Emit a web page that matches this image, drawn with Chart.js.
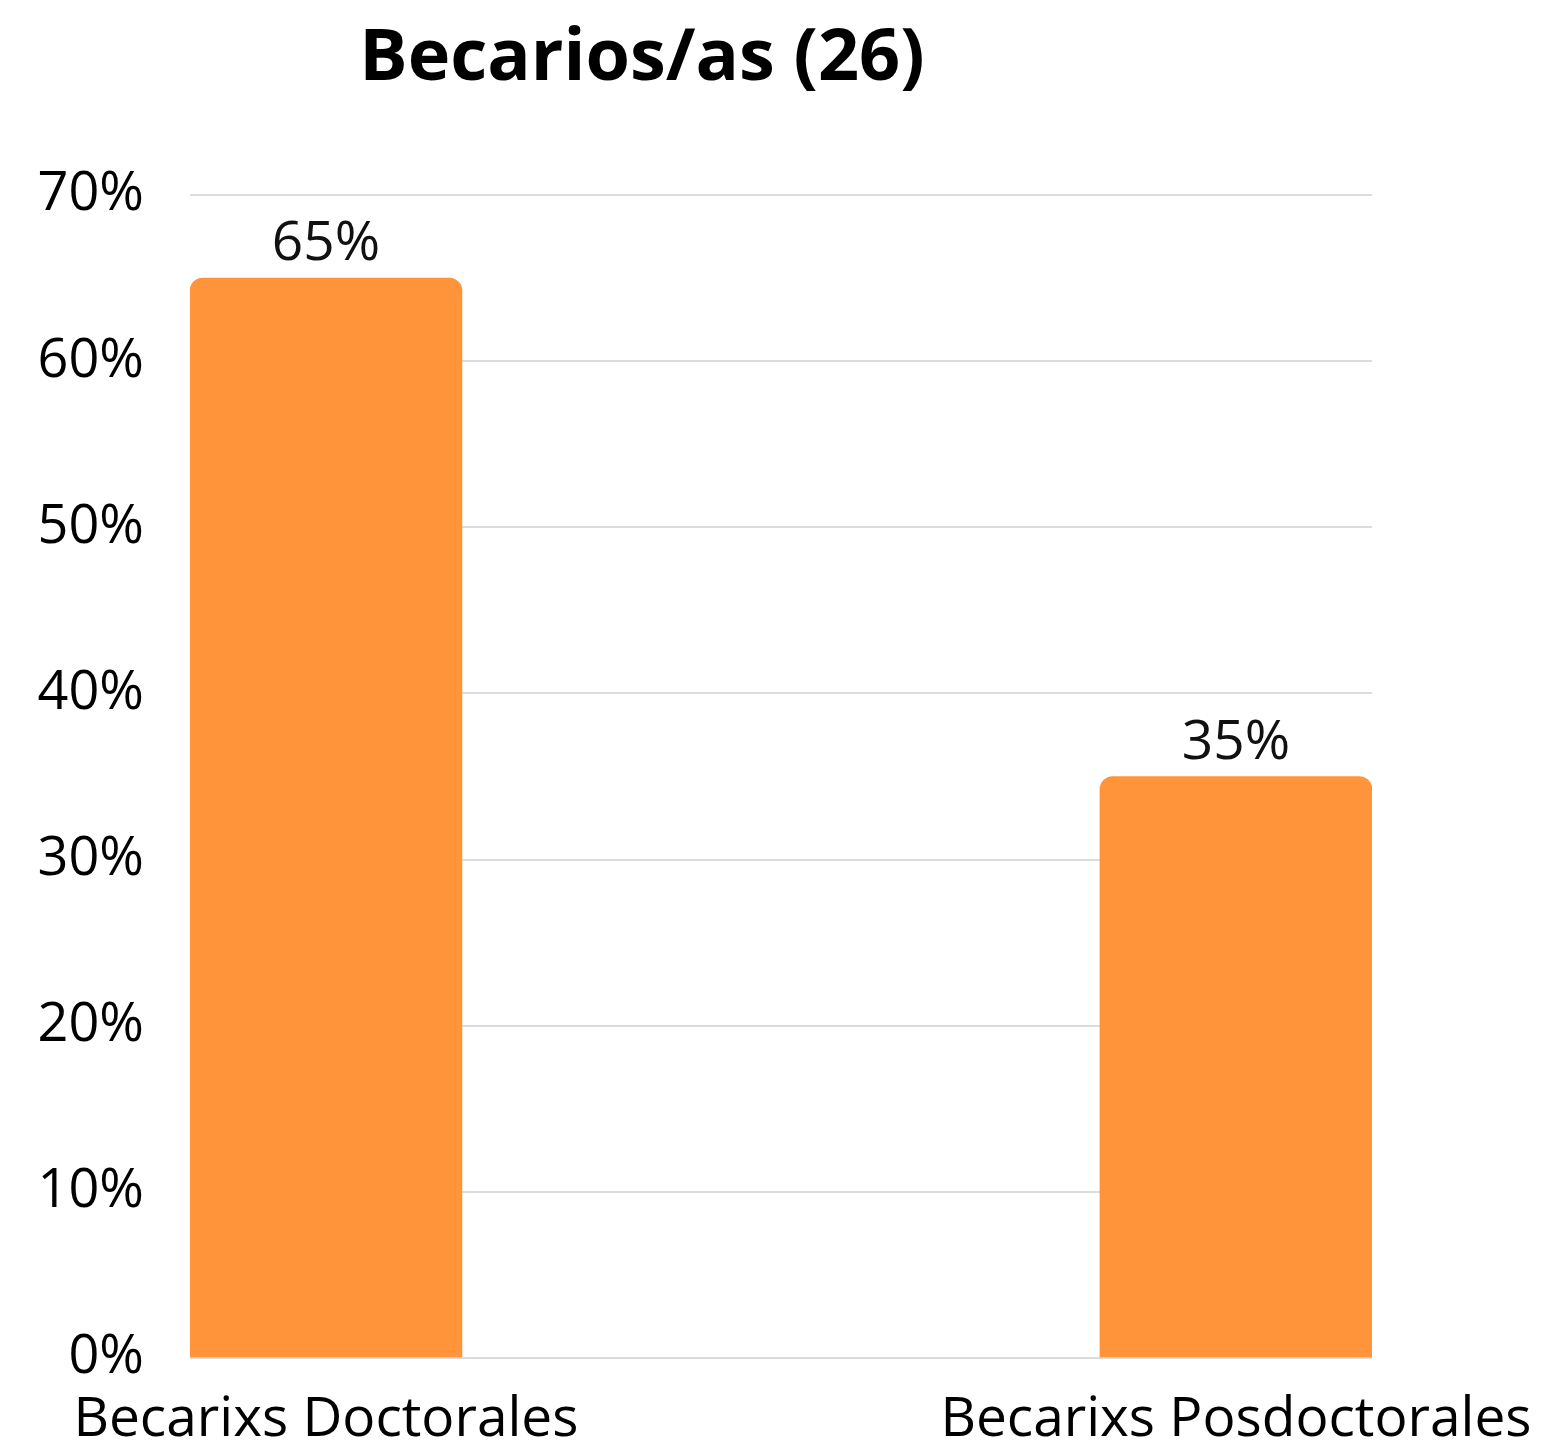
<!DOCTYPE html>
<html>
<head>
<meta charset="utf-8">
<script src="https://cdn.jsdelivr.net/npm/chart.js@4.4.1/dist/chart.umd.min.js"></script>
<style>
html,body{margin:0;padding:0;background:#fff;}
#wrap{width:1545px;height:1444px;position:relative;}
</style>
</head>
<body>
<div id="wrap"><canvas id="c" width="1545" height="1444"></canvas></div>
<script>
const chartTitle = "Becarios/as (26)";
const categories = ["Becarixs Doctorales", "Becarixs Posdoctorales"];
const values = [65, 35];
const yTicks = [0, 10, 20, 30, 40, 50, 60, 70];

const FONT = "'Open Sans', 'Noto Sans', sans-serif";

const titlePlugin = {
  id: 'titleText',
  afterDraw(chart) {
    const ctx = chart.ctx;
    ctx.save();
    ctx.font = "bold 72px " + FONT;
    ctx.fillStyle = '#000';
    ctx.textAlign = 'center';
    ctx.textBaseline = 'alphabetic';
    ctx.fillText(chartTitle, 642, 80);
    ctx.restore();
  }
};

const valueLabels = {
  id: 'valueLabels',
  afterDatasetsDraw(chart) {
    const ctx = chart.ctx;
    const meta = chart.getDatasetMeta(0);
    ctx.save();
    ctx.font = "55px " + FONT;
    ctx.fillStyle = '#111';
    ctx.textAlign = 'center';
    ctx.textBaseline = 'alphabetic';
    meta.data.forEach((bar, i) => {
      ctx.fillText(values[i] + '%', bar.x, bar.y - 18);
    });
    ctx.restore();
  }
};

new Chart(document.getElementById('c'), {
  type: 'bar',
  data: {
    datasets: [{
      data: values.map((v, i) => ({x: i, y: v})),
      backgroundColor: '#FF943A',
      borderWidth: 0,
      borderRadius: {topLeft: 13, topRight: 13, bottomLeft: 0, bottomRight: 0},
      borderSkipped: 'bottom',
      barThickness: 272
    }]
  },
  plugins: [titlePlugin, valueLabels],
  options: {
    responsive: false,
    animation: false,
    layout: {padding: {top: 195, right: 173, left: 0, bottom: 0}},
    plugins: {legend: {display: false}, tooltip: {enabled: false}, title: {display: false}},
    scales: {
      x: {
        type: 'linear',
        min: -0.1494,
        max: 1.1495,
        offset: false,
        grid: {display: false, drawTicks: false},
        border: {display: false},
        afterBuildTicks(scale) { scale.ticks = categories.map((c, i) => ({value: i})); },
        afterFit(scale) { scale.height = 86; scale.paddingLeft = 0; scale.paddingRight = 0; },
        ticks: {
          autoSkip: false,
          maxRotation: 0,
          padding: 29,
          color: '#000',
          font: {family: FONT, size: 55},
          callback: (v) => categories[v]
        }
      },
      y: {
        min: 0,
        max: 70,
        afterBuildTicks(scale) { scale.ticks = yTicks.map(v => ({value: v})); },
        afterFit(scale) { scale.width = 190; },
        grid: {color: '#dcdcdc', lineWidth: 2, drawTicks: false},
        border: {display: false},
        ticks: {
          padding: 46,
          color: '#000',
          font: {family: FONT, size: 54},
          callback: (v) => v + '%'
        }
      }
    }
  }
});
</script>
</body>
</html>
